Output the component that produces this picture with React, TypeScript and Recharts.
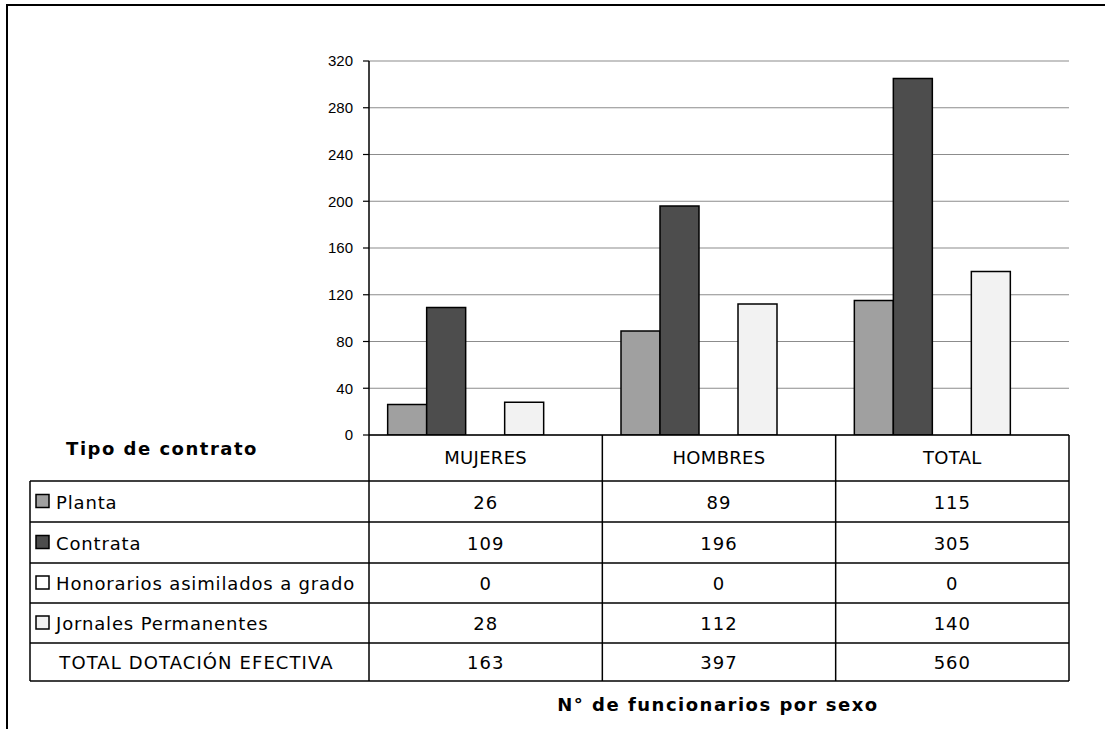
import { BarChart, Bar, XAxis, YAxis, CartesianGrid } from "recharts";

const categories = ["MUJERES", "HOMBRES", "TOTAL"];
const planta = [26, 89, 115];
const contrata = [109, 196, 305];
const honorarios = [0, 0, 0];
const jornales = [28, 112, 140];
const totalDotacion = [163, 397, 560];
const yTicks = [0, 40, 80, 120, 160, 200, 240, 280, 320];

const series = [
  { key: "planta", label: "Planta", values: planta, fill: "#a0a0a0" },
  { key: "contrata", label: "Contrata", values: contrata, fill: "#4d4d4d" },
  { key: "honorarios", label: "Honorarios asimilados a grado", values: honorarios, fill: "#ffffff" },
  { key: "jornales", label: "Jornales Permanentes", values: jornales, fill: "#f2f2f2" },
];

const data = categories.map((name, i) => ({
  name,
  planta: planta[i],
  contrata: contrata[i],
  honorarios: honorarios[i],
  jornales: jornales[i],
  total: totalDotacion[i],
}));

// layout
const W = 1105;
const H = 729;
const PLOT_L = 369;
const PLOT_R = 1069;
const PLOT_T = 61;
const PLOT_B = 435;
const TABLE_L = 30;
const HEADER_B = 481;
const ROW_Y = [481, 522, 563, 603, 643, 681];
const band = (PLOT_R - PLOT_L) / categories.length;
const colX = categories.map((_, i) => PLOT_L + band * i);
const colCenter = categories.map((_, i) => PLOT_L + band * (i + 0.5));

const tableFont = "'DejaVu Sans', Verdana, sans-serif";

function DataTable() {
  const rows = [
    ...series.map((s) => ({ label: s.label, values: s.values, fill: s.fill as string | null })),
    { label: "TOTAL DOTACIÓN EFECTIVA", values: totalDotacion, fill: null },
  ];
  return (
    <svg
      width={W}
      height={H}
      style={{ position: "absolute", left: 0, top: 0, pointerEvents: "none" }}
    >
      {/* outer frame */}
      <path d={`M7,${H + 10} L7,5 L${W + 10},5`} fill="none" stroke="#000" strokeWidth={2} />

      {/* header row */}
      <line x1={PLOT_L} x2={PLOT_R} y1={PLOT_B} y2={PLOT_B} stroke="#000" strokeWidth={1.5} />
      {[...colX, PLOT_R].map((x, i) => (
        <line key={i} x1={x} x2={x} y1={PLOT_B} y2={ROW_Y[5]} stroke="#000" strokeWidth={1.5} />
      ))}
      {categories.map((c, i) => (
        <text
          key={c}
          x={colCenter[i]}
          y={(PLOT_B + HEADER_B) / 2 + 6}
          textAnchor="middle"
          fontFamily={tableFont}
          fontSize={18}
          letterSpacing={0.3}
          fill="#000"
        >
          {c}
        </text>
      ))}
      <text
        x={162}
        y={455}
        textAnchor="middle"
        fontFamily={tableFont}
        fontWeight="bold"
        fontSize={18}
        letterSpacing={1.5}
        fill="#000"
      >
        Tipo de contrato
      </text>

      {/* body rows */}
      {ROW_Y.map((y, i) => (
        <line key={i} x1={TABLE_L} x2={PLOT_R} y1={y} y2={y} stroke="#000" strokeWidth={1.5} />
      ))}
      <line x1={TABLE_L} x2={TABLE_L} y1={ROW_Y[0]} y2={ROW_Y[5]} stroke="#000" strokeWidth={1.5} />

      {rows.map((r, ri) => {
        const cy = (ROW_Y[ri] + ROW_Y[ri + 1]) / 2;
        return (
          <g key={r.label}>
            {r.fill ? (
              <>
                <rect x={36} y={cy - 7} width={13} height={13} fill={r.fill} stroke="#000" strokeWidth={1.5} />
                <text x={56} y={cy + 7} fontFamily={tableFont} fontSize={18} letterSpacing={0.85} fill="#000">
                  {r.label}
                </text>
              </>
            ) : (
              <text
                x={(TABLE_L + PLOT_L) / 2 - 3}
                y={cy + 7}
                textAnchor="middle"
                fontFamily={tableFont}
                fontSize={18}
                letterSpacing={1.1}
                fill="#000"
              >
                {r.label}
              </text>
            )}
            {r.values.map((v, ci) => (
              <text
                key={ci}
                x={colCenter[ci]}
                y={cy + 7}
                textAnchor="middle"
                fontFamily={tableFont}
                fontSize={18}
                letterSpacing={1}
                fill="#000"
              >
                {v}
              </text>
            ))}
          </g>
        );
      })}

      <text
        x={718}
        y={711}
        textAnchor="middle"
        fontFamily={tableFont}
        fontWeight="bold"
        fontSize={18}
        letterSpacing={1.5}
        fill="#000"
      >
        N° de funcionarios por sexo
      </text>
    </svg>
  );
}

export default function App() {
  return (
    <div style={{ position: "absolute", left: 0, top: 0, width: W, height: H, background: "#fff" }}>
      <BarChart
        width={W}
        height={H}
        data={data}
        margin={{ top: PLOT_T, right: W - PLOT_R, bottom: H - PLOT_B, left: PLOT_L - 60 }}
        barCategoryGap="8%"
        barGap={0}
      >
        <CartesianGrid vertical={false} stroke="#8c8c8c" strokeWidth={1.2} />
        <XAxis dataKey="name" hide />
        <YAxis
          width={60}
          domain={[0, 320]}
          allowDataOverflow
          ticks={yTicks}
          interval={0}
          axisLine={{ stroke: "#000", strokeWidth: 1.5 }}
          tickLine={{ stroke: "#000", strokeWidth: 1.2 }}
          tickSize={6}
          tickMargin={10}
          tick={{ fill: "#000", fontSize: 15, fontFamily: "'Liberation Sans', Arial, sans-serif" }}
        />
        {series.map((s) => (
          <Bar
            key={s.key}
            dataKey={s.key}
            name={s.label}
            fill={s.fill}
            stroke="#000"
            strokeWidth={1.5}
            isAnimationActive={false}
          />
        ))}
        <Bar
          dataKey="total"
          name="TOTAL DOTACIÓN EFECTIVA"
          fill="none"
          stroke="none"
          isAnimationActive={false}
        />
      </BarChart>
      <DataTable />
    </div>
  );
}
